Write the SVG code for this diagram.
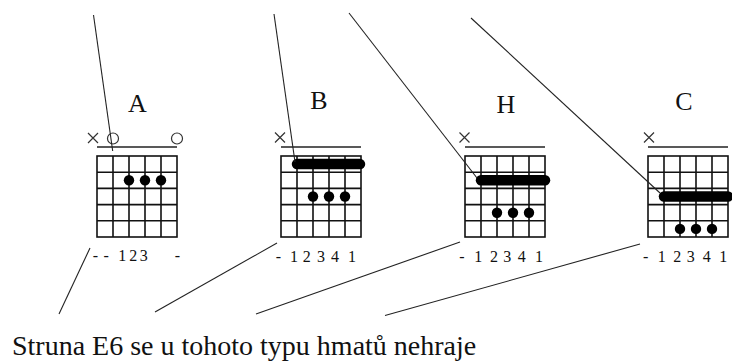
<svg xmlns="http://www.w3.org/2000/svg" xmlns:xlink="http://www.w3.org/1999/xlink" width="732" height="361" viewBox="0 0 732 361">
  <style>
    .grid { fill: none; stroke: #111; stroke-width: 1.6; }
    .nut { stroke: #222; stroke-width: 1.3; }
    .barre { stroke: #000; stroke-width: 10.5; stroke-linecap: round; }
    .dot { fill: #000; }
    .mute { stroke: #333; stroke-width: 1.2; fill: none; }
    .open { stroke: #333; stroke-width: 1.2; fill: none; }
    text { font-family: "Liberation Serif", "Times New Roman", Times, "DejaVu Serif", serif; fill: #111; }
    .name { font-size: 26px; text-anchor: middle; }
    .fing { font-size: 16px; text-anchor: middle; }
    .caption { font-size: 28px; }
    .link { stroke: #222; stroke-width: 1.1; fill: none; }
  </style>
  <defs>
    <!-- fretboard: nut line, 6 strings, 5 frets -->
    <g id="board">
      <line class="nut" x1="0" y1="-9" x2="80" y2="-9"/>
      <rect class="grid" x="0" y="0" width="80" height="81"/>
      <path class="grid" d="M16 0V81M32 0V81M48 0V81M64 0V81M0 16.2H80M0 32.4H80M0 48.6H80M0 64.8H80"/>
    </g>
    <path id="cross" class="mute" d="M-5 -5L5 5M5 -5L-5 5"/>
  </defs>
  <rect width="732" height="361" fill="#fff"/>

  <g id="chord-A" transform="translate(97,156)">
    <text class="name" x="40.5" y="-44">A</text>
    <use xlink:href="#board"/>
    <use xlink:href="#cross" x="-4" y="-18"/>
    <circle class="open" cx="16" cy="-17.5" r="5.5"/>
    <circle class="open" cx="80" cy="-17.5" r="5.5"/>
    <circle class="dot" cx="32" cy="24.3" r="5.2"/>
    <circle class="dot" cx="48" cy="24.3" r="5.2"/>
    <circle class="dot" cx="64" cy="24.3" r="5.2"/>
    <text class="fing" x="-1.7 9.2 25.2 36.3 46.7 80.5" y="104.7">--123-</text>
  </g>

  <g id="chord-B" transform="translate(281,156)">
    <text class="name" x="38" y="-47">B</text>
    <use xlink:href="#board"/>
    <use xlink:href="#cross" x="-1" y="-18.5"/>
    <line class="barre" x1="16" y1="8.1" x2="79" y2="8.1"/>
    <circle class="dot" cx="32" cy="40.5" r="5.2"/>
    <circle class="dot" cx="48" cy="40.5" r="5.2"/>
    <circle class="dot" cx="64" cy="40.5" r="5.2"/>
    <text class="fing" x="-2.7 13 25.7 40 54 71" y="105.7">-12341</text>
  </g>

  <g id="chord-H" transform="translate(465,156)">
    <text class="name" x="41" y="-43">H</text>
    <use xlink:href="#board"/>
    <use xlink:href="#cross" x="-0.5" y="-18.5"/>
    <line class="barre" x1="16" y1="24.3" x2="80" y2="24.3"/>
    <circle class="dot" cx="32" cy="56.7" r="5.2"/>
    <circle class="dot" cx="48" cy="56.7" r="5.2"/>
    <circle class="dot" cx="64" cy="56.7" r="5.2"/>
    <text class="fing" x="-3 13.3 29 42.3 56.7 74" y="105.7">-12341</text>
  </g>

  <g id="chord-C" transform="translate(648,156)">
    <text class="name" x="36" y="-46">C</text>
    <use xlink:href="#board"/>
    <use xlink:href="#cross" x="1" y="-18.5"/>
    <line class="barre" x1="16" y1="40.5" x2="80" y2="40.5"/>
    <circle class="dot" cx="32" cy="72.9" r="5.2"/>
    <circle class="dot" cx="48" cy="72.9" r="5.2"/>
    <circle class="dot" cx="64" cy="72.9" r="5.2"/>
    <text class="fing" x="-2.3 13.7 29.3 42.7 58.7 75.3" y="105.7">-12341</text>
  </g>

  <!-- pointer lines toward the low E string of each shape -->
  <g id="connectors">
    <line class="link" x1="93.5" y1="15" x2="112.7" y2="151"/>
    <line class="link" x1="274" y1="14" x2="295" y2="162"/>
    <line class="link" x1="349" y1="13" x2="477" y2="178"/>
    <line class="link" x1="471" y1="18" x2="660" y2="193"/>
    <line class="link" x1="90" y1="248" x2="59" y2="314"/>
    <line class="link" x1="277" y1="243" x2="155" y2="312"/>
    <line class="link" x1="460" y1="242" x2="256" y2="314"/>
    <line class="link" x1="640" y1="244" x2="385" y2="315.5"/>
  </g>

  <text id="caption" class="caption" x="12" y="355">Struna E6 se u tohoto typu hmatů nehraje</text>
</svg>
